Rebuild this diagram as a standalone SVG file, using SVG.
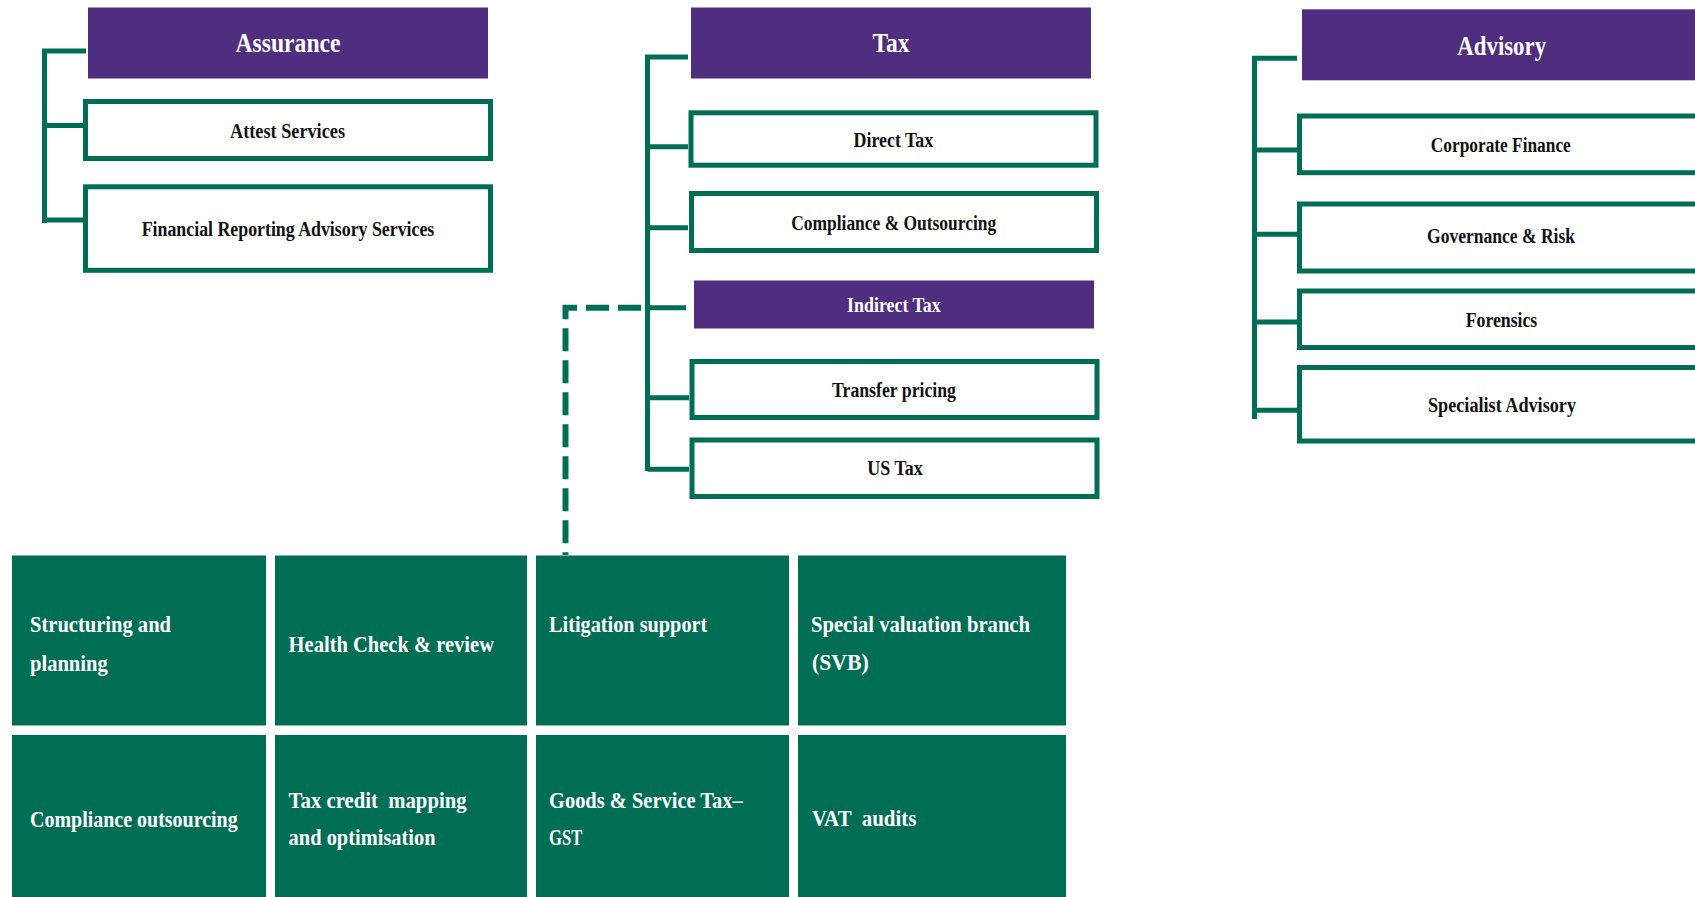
<svg xmlns="http://www.w3.org/2000/svg" width="1695" height="897" viewBox="0 0 1695 897">
<style>
.pur{fill:#4F2D7F}
.box{fill:#fff;stroke:#006E54;stroke-width:5}
.cell{fill:#006E54}
.ln{fill:none;stroke:#006E54;stroke-width:5}
.dash{fill:none;stroke:#006E54;stroke-width:6;stroke-dasharray:23 9}
.hd{font-family:"Liberation Serif",serif;font-weight:bold;font-size:27px;fill:#fff;text-anchor:middle}
.lb{font-family:"Liberation Serif",serif;font-weight:bold;font-size:20.5px;fill:#111;text-anchor:middle}
.lw{font-family:"Liberation Serif",serif;font-weight:bold;font-size:20.5px;fill:#fff;text-anchor:middle}
.gl{font-family:"Liberation Serif",serif;font-weight:bold;font-size:23px;fill:#fff;white-space:pre}
</style>
<rect width="1695" height="897" fill="#fff"/>
<g id="connectors">
<path class="ln" d="M86,51 H44.5 V223 M44.5,125.5 H83 M44.5,220 H83"/>
<path class="ln" d="M688,57 H647.5 V471 M647.5,146.7 H688 M647.5,227.7 H688 M647.5,307.7 H686 M647.5,397.7 H689 M647.5,469.3 H689"/>
<path class="ln" d="M1297,58.3 H1254.5 V419 M1254.5,150 H1297 M1254.5,234.3 H1297 M1254.5,322 H1297 M1254.5,410.3 H1297"/>
<path class="dash" d="M641,307.7 H565.5 V555"/>
</g>
<g id="assurance"><rect class="pur" x="88" y="7.5" width="400" height="71"/><text class="hd" x="288" y="52" textLength="105" lengthAdjust="spacingAndGlyphs">Assurance</text></g>
<g id="attest"><rect class="box" x="85.5" y="101.5" width="405" height="57"/><text class="lb" x="287.5" y="137.7" textLength="115" lengthAdjust="spacingAndGlyphs">Attest Services</text></g>
<g id="fras"><rect class="box" x="85.5" y="186.8" width="405" height="83.5"/><text class="lb" x="288" y="235.7" textLength="292.6" lengthAdjust="spacingAndGlyphs">Financial Reporting Advisory Services</text></g>
<g id="tax"><rect class="pur" x="691" y="7.5" width="400" height="71"/><text class="hd" x="891" y="52.3" textLength="37" lengthAdjust="spacingAndGlyphs">Tax</text></g>
<g id="direct-tax"><rect class="box" x="691" y="112.8" width="405" height="52.4"/><text class="lb" x="893.4" y="147" textLength="79.6" lengthAdjust="spacingAndGlyphs">Direct Tax</text></g>
<g id="compliance"><rect class="box" x="691.5" y="193.5" width="405" height="57"/><text class="lb" x="893.7" y="230" textLength="205" lengthAdjust="spacingAndGlyphs">Compliance &amp; Outsourcing</text></g>
<g id="indirect-tax"><rect class="pur" x="694" y="280.5" width="400" height="48"/><text class="lw" x="893.9" y="311.7" textLength="93.6" lengthAdjust="spacingAndGlyphs">Indirect Tax</text></g>
<g id="transfer"><rect class="box" x="692" y="361.5" width="405" height="56"/><text class="lb" x="894" y="396.7" textLength="124" lengthAdjust="spacingAndGlyphs">Transfer pricing</text></g>
<g id="us-tax"><rect class="box" x="692" y="440" width="405" height="56.5"/><text class="lb" x="895" y="475" textLength="55.4" lengthAdjust="spacingAndGlyphs">US Tax</text></g>
<g id="advisory"><rect class="pur" x="1302" y="9.3" width="400" height="71"/><text class="hd" x="1501.7" y="54.5" textLength="88.7" lengthAdjust="spacingAndGlyphs">Advisory</text></g>
<g id="corporate-finance"><rect class="box" x="1299.5" y="116" width="405" height="56.7"/><text class="lb" x="1500.8" y="151.7" textLength="140" lengthAdjust="spacingAndGlyphs">Corporate Finance</text></g>
<g id="governance"><rect class="box" x="1299.5" y="204" width="405" height="67"/><text class="lb" x="1501" y="243.3" textLength="148" lengthAdjust="spacingAndGlyphs">Governance &amp; Risk</text></g>
<g id="forensics"><rect class="box" x="1299.5" y="291" width="405" height="56.5"/><text class="lb" x="1501.5" y="326.7" textLength="71.6" lengthAdjust="spacingAndGlyphs">Forensics</text></g>
<g id="specialist"><rect class="box" x="1299.5" y="367.5" width="405" height="73.5"/><text class="lb" x="1502" y="411.7" textLength="148" lengthAdjust="spacingAndGlyphs">Specialist Advisory</text></g>
<g id="cell-structuring"><rect class="cell" x="12" y="555.5" width="254" height="170"/><text class="gl" x="30" y="632" textLength="141" lengthAdjust="spacingAndGlyphs">Structuring and</text><text class="gl" x="30" y="671" textLength="77.7" lengthAdjust="spacingAndGlyphs">planning</text></g>
<g id="cell-health"><rect class="cell" x="275" y="555.5" width="252" height="170"/><text class="gl" x="288.6" y="651.7" textLength="205.4" lengthAdjust="spacingAndGlyphs">Health Check &amp; review</text></g>
<g id="cell-litigation"><rect class="cell" x="536" y="555.5" width="253" height="170"/><text class="gl" x="549" y="631.7" textLength="158.3" lengthAdjust="spacingAndGlyphs">Litigation support</text></g>
<g id="cell-svb"><rect class="cell" x="798" y="555.5" width="268" height="170"/><text class="gl" x="811" y="632" textLength="219" lengthAdjust="spacingAndGlyphs">Special valuation branch</text><text class="gl" x="812" y="670" textLength="56.7" lengthAdjust="spacingAndGlyphs">(SVB)</text></g>
<g id="cell-compliance-outsourcing"><rect class="cell" x="12" y="735" width="254" height="165"/><text class="gl" x="30" y="826.7" textLength="207.7" lengthAdjust="spacingAndGlyphs">Compliance outsourcing</text></g>
<g id="cell-tax-credit"><rect class="cell" x="275" y="735" width="252" height="165"/><text class="gl" x="288.6" y="807.7" textLength="178" lengthAdjust="spacingAndGlyphs">Tax credit  mapping</text><text class="gl" x="288.6" y="845" textLength="147" lengthAdjust="spacingAndGlyphs">and optimisation</text></g>
<g id="cell-gst"><rect class="cell" x="536" y="735" width="253" height="165"/><text class="gl" x="549" y="807.7" textLength="193.8" lengthAdjust="spacingAndGlyphs">Goods &amp; Service Tax–</text><text class="gl" x="549" y="845" textLength="33.3" lengthAdjust="spacingAndGlyphs">GST</text></g>
<g id="cell-vat"><rect class="cell" x="798" y="735" width="268" height="165"/><text class="gl" x="811.7" y="826" textLength="104.7" lengthAdjust="spacingAndGlyphs">VAT  audits</text></g>
</svg>
